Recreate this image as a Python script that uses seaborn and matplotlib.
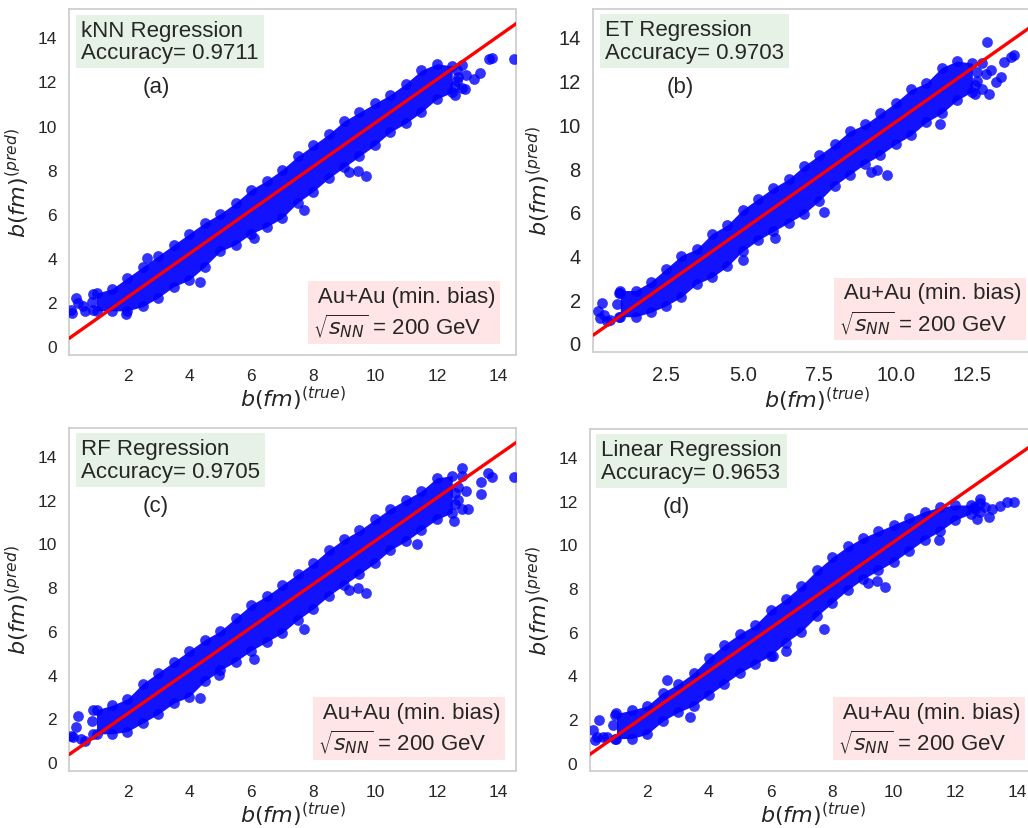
import numpy as np
import pandas as pd
import matplotlib
matplotlib.use("Agg")
import matplotlib.pyplot as plt
import seaborn as sns

# ---------------- data ----------------
panel_titles = ["kNN Regression", "ET Regression", "RF Regression", "Linear Regression"]
accuracies = ["0.9711", "0.9703", "0.9705", "0.9653"]
panel_tags = ["(a)", "(b)", "(c)", "(d)"]
system_label = " Au+Au (min. bias)\n$\\sqrt{s_{NN}}$ = 200 GeV"

# x positions where the edges of the dense point cloud were read
band_x = [1.0, 1.5, 2.0, 2.5, 3.0, 3.5, 4.0, 4.5, 5.0, 5.5, 6.0, 6.5,
          7.0, 7.5, 8.0, 8.5, 9.0, 9.5, 10.0, 10.5, 11.0, 11.5, 12.0, 12.5]

# upper / lower edge of the cloud (point centres) for each panel
a_hi = [2.4, 2.6, 3.1, 3.6, 4.1, 4.6, 5.1, 5.6, 6.0, 6.5, 7.1, 7.5,
        8.0, 8.6, 9.1, 9.6, 10.2, 10.6, 11.0, 11.4, 11.9, 12.5, 12.8, 12.7]
a_lo = [1.6, 1.6, 1.6, 1.8, 2.2, 2.7, 3.0, 3.6, 4.3, 4.6, 5.1, 5.4,
        5.8, 6.5, 7.0, 7.6, 8.1, 8.6, 9.1, 9.7, 10.1, 10.6, 11.2, 11.5]
b_hi = [2.4, 2.4, 2.8, 3.4, 4.0, 4.3, 5.0, 5.4, 6.1, 6.6, 7.1, 7.5,
        8.1, 8.6, 9.1, 9.7, 10.0, 10.5, 11.0, 11.6, 11.9, 12.6, 12.9, 12.8]
b_lo = [1.2, 1.2, 1.4, 1.7, 2.1, 2.7, 3.0, 3.5, 4.2, 4.7, 5.1, 5.5,
        5.9, 6.5, 7.2, 7.7, 8.2, 8.6, 9.1, 9.5, 10.1, 10.5, 11.1, 11.5]
c_hi = [2.4, 2.6, 2.9, 3.6, 4.1, 4.6, 5.1, 5.6, 6.0, 6.6, 7.2, 7.6,
        8.1, 8.6, 9.1, 9.7, 10.2, 10.6, 11.1, 11.6, 12.0, 12.4, 13.0, 13.1]
c_lo = [1.3, 1.3, 1.4, 1.8, 2.2, 2.7, 3.0, 3.7, 4.2, 4.6, 5.1, 5.5,
        5.9, 6.5, 7.0, 7.6, 8.1, 8.6, 9.1, 9.7, 10.1, 10.6, 11.1, 11.4]
d_hi = [2.25, 2.4, 2.6, 3.2, 3.6, 4.1, 4.8, 5.4, 5.9, 6.3, 7.0, 7.5,
        8.1, 8.8, 9.4, 9.9, 10.3, 10.6, 10.9, 11.2, 11.5, 11.7, 11.8, 11.8]
d_lo = [1.1, 1.1, 1.3, 1.9, 2.3, 2.6, 3.1, 3.6, 4.1, 4.5, 4.9, 5.5,
        6.0, 6.7, 7.3, 7.9, 8.4, 8.8, 9.2, 9.7, 10.2, 10.6, 11.1, 11.4]

# isolated points outside the dense band (incl. the rounded ends of the cloud)
a_out_x = [0.18, 0.35, 0.40, 0.56, 0.20, 0.62, 0.90, 0.90, 0.85, 1.95, 2.62, 4.35,
           6.08, 7.70, 9.16, 9.45, 9.72, 12.6, 12.65, 12.65, 12.7, 12.8, 12.8,
           12.95, 12.6, 12.9, 13.2, 13.4, 13.7, 13.8, 14.5]
a_out_y = [1.66, 2.18, 1.96, 1.80, 1.50, 1.60, 1.65, 2.35, 2.00, 1.46, 3.99, 2.90,
           4.90, 6.15, 7.90, 7.95, 7.70, 11.8, 12.0, 12.5, 12.2, 12.75, 11.7,
           12.3, 11.4, 11.65, 12.1, 12.4, 13.0, 13.05, 13.0]
b_out_x = [0.27, 0.41, 0.35, 0.57, 0.68, 0.46, 0.95, 0.95, 0.90, 1.00, 5.00, 6.07,
           7.65, 9.18, 9.40, 9.70, 11.43, 12.6, 12.65, 12.65, 12.8, 12.8, 12.95,
           12.60, 12.97, 13.05, 13.10, 13.26, 13.43, 13.53, 13.75, 13.86]
b_out_y = [1.45, 1.84, 1.15, 1.00, 1.07, 1.30, 1.20, 2.30, 1.80, 2.30, 3.80, 4.80,
           5.97, 7.80, 7.90, 7.70, 10.00, 11.8, 12.0, 12.4, 12.8, 11.6, 12.3,
           11.40, 13.77, 11.40, 12.47, 11.93, 12.16, 12.85, 13.08, 13.16]
c_out_x = [0.24, 0.40, 0.35, 0.51, 0.62, 0.18, 0.90, 0.90, 0.85, 4.35, 4.96, 6.08,
           7.70, 9.16, 9.45, 9.72, 11.37, 12.56, 12.6, 12.6, 12.7, 12.7, 12.80,
           12.8, 12.8, 12.95, 13.00, 13.43, 13.43, 13.64, 13.80, 14.50]
c_out_y = [1.14, 2.12, 1.59, 1.06, 0.98, 1.21, 1.30, 2.40, 1.90, 2.95, 3.97, 4.74,
           6.10, 7.87, 7.95, 7.72, 9.99, 11.05, 11.8, 12.3, 12.0, 12.6, 13.47,
           13.1, 11.6, 12.4, 11.58, 12.26, 12.79, 13.24, 13.02, 13.05]
d_out_x = [0.25, 0.44, 0.38, 0.57, 0.70, 0.30, 0.95, 0.95, 0.90, 2.63, 3.39, 6.09,
           6.49, 7.72, 9.18, 9.45, 9.72, 11.46, 12.6, 12.65, 12.8, 12.8, 12.95,
           12.70, 12.80, 13.08, 13.19, 13.46, 13.68, 13.89]
d_out_y = [1.47, 1.97, 1.17, 1.17, 1.17, 1.02, 1.10, 2.20, 1.70, 3.80, 2.08, 4.86,
           5.11, 6.14, 8.24, 8.32, 8.02, 10.20, 11.7, 11.6, 11.9, 11.5, 11.7,
           11.17, 12.07, 11.25, 11.62, 11.77, 11.92, 11.95]

# red reference line
fit_x = [0.12, 14.7]
fit_y = [0.36, 14.75]

ticks_int = [2, 4, 6, 8, 10, 12, 14]
ticks_half = [2.5, 5.0, 7.5, 10.0, 12.5]
yticks = [0, 2, 4, 6, 8, 10, 12, 14]

# ---------------- style ----------------
sns.set_theme(style="whitegrid")
plt.rcParams["font.family"] = ["Liberation Sans", "DejaVu Sans"]
plt.rcParams["axes.grid"] = False
plt.rcParams["axes.edgecolor"] = "#cfcfcf"
plt.rcParams["axes.linewidth"] = 1.3
plt.rcParams["xtick.major.pad"] = 3.5
plt.rcParams["ytick.major.pad"] = 3.0
plt.rcParams["mathtext.fontset"] = "dejavusans"

fig = plt.figure(figsize=(10.28, 8.29), dpi=100)

W, H = 1028.0, 829.0
boxes = [
    (69.3, 10.0, 446.4, 346.0),
    (593.3, 10.0, 446.4, 342.7),
    (69.3, 429.0, 446.4, 343.0),
    (590.0, 430.0, 446.4, 342.3),
]
xlims = [(0.12, 14.55), (0.12, 14.7), (0.12, 14.55), (0.14, 14.63)]
tick_sizes = [12.5, 14.5, 12.5, 12.5]
panel_hi = [a_hi, b_hi, c_hi, d_hi]
panel_lo = [a_lo, b_lo, c_lo, d_lo]
panel_ox = [a_out_x, b_out_x, c_out_x, d_out_x]
panel_oy = [a_out_y, b_out_y, c_out_y, d_out_y]
sys_x = [8.0, 8.13, 8.16, 8.19]
BLUE = "#0000ff"

for i in range(4):
    l, t, w, h = boxes[i]
    ax = fig.add_axes([l / W, 1 - (t + h) / H, w / W, h / H])

    ax.fill_between(band_x, panel_lo[i], panel_hi[i], color=BLUE, alpha=0.93,
                    linewidth=0, zorder=2)
    pts = pd.DataFrame({
        "x": list(band_x) + list(band_x) + list(panel_ox[i]),
        "y": list(panel_hi[i]) + list(panel_lo[i]) + list(panel_oy[i]),
    })
    sns.scatterplot(data=pts, x="x", y="y", color=BLUE, alpha=0.8, s=60,
                    linewidth=0, ax=ax, zorder=3)
    sns.lineplot(x=fit_x, y=fit_y, color="red", linewidth=2.4, ax=ax, zorder=4)

    ax.set_xlim(*xlims[i])
    ax.set_ylim(-0.4, 15.28)
    if i == 1:
        ax.set_xticks(ticks_half)
        ax.set_xticklabels([f"{v:.1f}" for v in ticks_half])
    else:
        ax.set_xticks(ticks_int)
    ax.set_yticks(yticks)
    ax.tick_params(labelsize=tick_sizes[i], colors="#262626")

    ax.set_xlabel("$b(fm)^{(true)}$", fontsize=16, labelpad=0.5)
    ax.set_ylabel("$b(fm)^{(pred)}$", fontsize=16, labelpad=4)

    ax.text(0.5, 13.05, f"{panel_titles[i]}\nAccuracy= {accuracies[i]}",
            fontsize=16, va="baseline", ha="left", color="#262626", zorder=6,
            linespacing=1.1,
            bbox=dict(facecolor="green", alpha=0.1, edgecolor="none", pad=3.5))
    ax.text(2.5, 11.5, panel_tags[i], fontsize=16, va="baseline", ha="left",
            color="#262626", zorder=6)
    ax.text(sys_x[i], 0.58, system_label, fontsize=16, va="baseline", ha="left",
            color="#262626", zorder=6,
            bbox=dict(facecolor="red", alpha=0.1, edgecolor="none", pad=3.5))

fig.savefig("out.png", dpi=100)
